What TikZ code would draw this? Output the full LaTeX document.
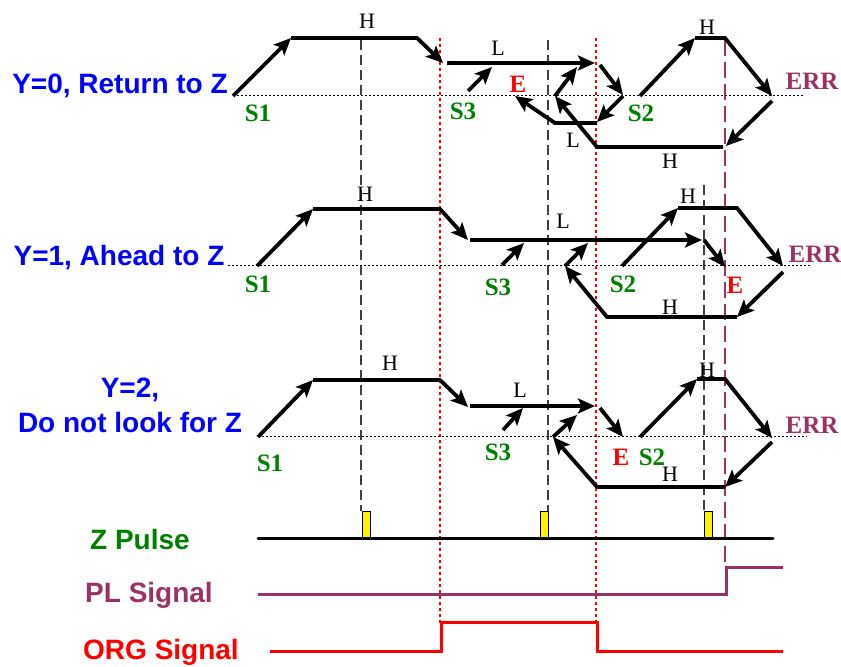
\documentclass[tikz,border=0pt]{standalone}
\usepackage{fontspec}
\setmainfont{Liberation Serif}
\setsansfont{Liberation Sans}
\usetikzlibrary{arrows.meta}
\definecolor{zgreen}{RGB}{0,128,0}
\definecolor{errcol}{RGB}{153,51,102}
\definecolor{yblue}{RGB}{0,0,255}

\begin{document}
\begin{tikzpicture}[x=0.5pt, y=-0.5pt,
    move/.style={line width=1.9pt, -{Stealth[length=8.5pt, width=7.5pt, inset=1.8pt]}},
    base/.style={line width=0.5pt, dash pattern=on 1pt off 1pt},
    zmark/.style={black!75, line width=0.65pt, dash pattern=on 5pt off 2.5pt},
    orgmark/.style={red, line width=0.75pt, dash pattern=on 1.5pt off 1.5pt},
    plmark/.style={errcol, line width=0.75pt, dash pattern=on 8pt off 3pt},
    spd/.style={inner sep=0pt, font=\fontsize{11}{13}\selectfont},
    stag/.style={inner sep=0pt, text=zgreen, font=\fontsize{12.5}{14}\selectfont\bfseries},
    etag/.style={inner sep=0pt, text=red, font=\fontsize{12.5}{14}\selectfont\bfseries},
    errtag/.style={inner sep=0pt, text=errcol, font=\fontsize{12.5}{14}\selectfont\bfseries},
    ylab/.style={inner sep=0pt, align=center, text=yblue, font=\fontsize{14}{17.5}\selectfont\sffamily\bfseries},
    sig/.style={inner sep=0pt, font=\fontsize{14}{17.5}\selectfont\sffamily\bfseries}
  ]
  \useasboundingbox (0,0) rectangle (841,667);

  % guide lines
  \foreach \xv/\ytop in {361/40, 548/40, 704/185}
    \draw[zmark] (\xv,\ytop) -- (\xv,511);
  \foreach \xv in {440, 596}
    \draw[orgmark] (\xv,38) -- (\xv,623);
  \draw[plmark] (725,40) -- (725,568);

  \draw[base] (233,96) -- (803,96);
  \draw[base] (228,266) -- (812,266);
  \draw[base] (258,437) -- (807,437);

  % Y=0
  \node[ylab] (y0) at (120,86) {Y=0, Return to Z};
  \draw[move] (233,96) -- (291,38);
  \draw[move] (291,38) -- (417,38) -- (443,63);
  \draw[move] (447,63) -- (595,63);
  \draw[move] (468,91) -- (492,67);
  \draw[move] (600,65) -- (623,95);
  \draw[move] (623,96) -- (597,122);
  \draw[move] (597,123) -- (555,123) -- (515,96);
  \draw[move] (723,147) -- (597,147) -- (555,96);
  \draw[move] (555,96) -- (577,67);
  \draw[move] (640,96) -- (695,38);
  \draw[move] (695,38) -- (725,38) -- (772,96);
  \draw[move] (772,101) -- (726,146);
  \node[spd] (h0a) at (367,21) {H};
  \node[spd] (l0a) at (498,48) {L};
  \node[spd] (l0b) at (573,140) {L};
  \node[spd] (h0b) at (670,161) {H};
  \node[spd] (h0c) at (707,27) {H};
  \node[stag] (s10) at (258,113) {S1};
  \node[stag] (s30) at (463,111) {S3};
  \node[stag] (s20) at (641,113) {S2};
  \node[etag] (e0) at (518,84) {E};
  \node[errtag] (err0) at (812,81) {ERR};

  % Y=1
  \node[ylab] (y1) at (119,258) {Y=1, Ahead to Z};
  \draw[move] (257,266) -- (313,209);
  \draw[move] (313,209) -- (440,209) -- (468,240);
  \draw[move] (470,240) -- (702,240);
  \draw[move] (704,240) -- (725,267);
  \draw[move] (502,265) -- (524,243);
  \draw[move] (737,317) -- (607,317) -- (565,266);
  \draw[move] (565,266) -- (588,243);
  \draw[move] (622,266) -- (678,208);
  \draw[move] (678,208) -- (737,208) -- (783,266);
  \draw[move] (783,272) -- (737,317);
  \node[spd] (h1a) at (365,194) {H};
  \node[spd] (l1a) at (563,221) {L};
  \node[spd] (h1b) at (670,307) {H};
  \node[spd] (h1c) at (688,196) {H};
  \node[stag] (s11) at (258,284) {S1};
  \node[stag] (s31) at (498,287) {S3};
  \node[stag] (s21) at (623,284) {S2};
  \node[etag] (e1) at (735,285) {E};
  \node[errtag] (err1) at (815,254) {ERR};

  % Y=2
  \node[ylab] (y2) at (130,405) {Y=2,\\Do not look for Z};
  \draw[move] (258,437) -- (313,380);
  \draw[move] (313,380) -- (440,380) -- (468,407);
  \draw[move] (470,406) -- (595,406);
  \draw[move] (503,430) -- (523,408);
  \draw[move] (600,408) -- (623,437);
  \draw[move] (640,437) -- (697,379);
  \draw[move] (697,379) -- (725,379) -- (772,438);
  \draw[move] (772,442) -- (725,487);
  \draw[move] (725,487) -- (597,487) -- (553,437);
  \draw[move] (553,437) -- (577,415);
  \node[spd] (h2a) at (390,363) {H};
  \node[spd] (l2a) at (520,390) {L};
  \node[spd] (h2b) at (670,474) {H};
  \node[spd] (h2c) at (707,370) {H};
  \node[stag] (s12) at (270,463) {S1};
  \node[stag] (s32) at (498,452) {S3};
  \node[stag] (s22) at (652,457) {S2};
  \node[etag] (e2) at (621,457) {E};
  \node[errtag] (err2) at (812,425) {ERR};

  % signals
  \foreach \px in {362, 540, 704}
    \filldraw[fill=yellow, draw=black, line width=0.4pt] (\px,511) rectangle ++(8,28);
  \draw[line width=1.5pt, line cap=round] (258,539) -- (773,539);
  \draw[errcol, line width=1.5pt] (258,595) -- (726,595) -- (726,568) -- (783,568);
  \draw[red, line width=1.5pt] (270,652) -- (441,652) -- (441,623) -- (597,623) -- (597,652) -- (783,652);
  \node[sig, text=zgreen] (zp) at (140,539) {Z Pulse};
  \node[sig, text=errcol] (pl) at (149,595) {PL Signal};
  \node[sig, text=red] (org) at (161,652) {ORG Signal};
\end{tikzpicture}
\end{document}
